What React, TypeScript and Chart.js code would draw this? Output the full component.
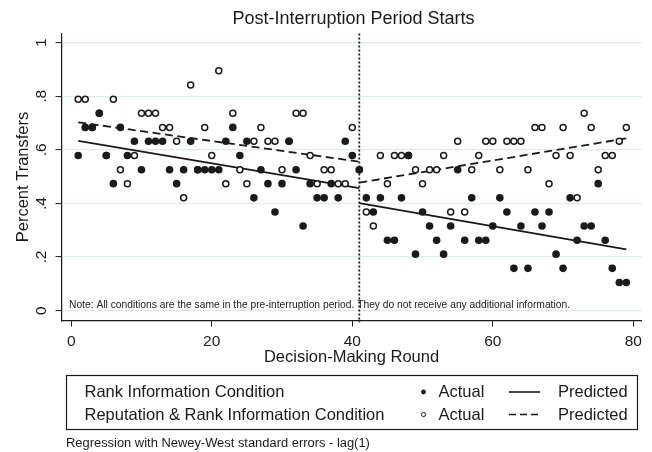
import React, { useEffect, useRef } from 'react';
import { Chart, registerables } from 'chart.js';

Chart.register(...registerables);

// ---------------- data ----------------
const rounds = [
  1, 2, 3, 4, 5, 6, 7, 8, 9, 10,
  11, 12, 13, 14, 15, 16, 17, 18, 19, 20,
  21, 22, 23, 24, 25, 26, 27, 28, 29, 30,
  31, 32, 33, 34, 35, 36, 37, 38, 39, 40, 41,
  42, 43, 44, 45, 46, 47, 48, 49, 50,
  51, 52, 53, 54, 55, 56, 57, 58, 59, 60,
  61, 62, 63, 64, 65, 66, 67, 68, 69, 70,
  71, 72, 73, 74, 75, 76, 77, 78, 79,
];

// Rank Information Condition – Actual (filled)
const rankActual = [
  0.579, 0.684, 0.684, 0.737, 0.579, 0.474, 0.684, 0.579, 0.632, 0.526,
  0.632, 0.632, 0.632, 0.526, 0.474, 0.526, 0.632, 0.526, 0.526, 0.526,
  0.526, 0.632, 0.684, 0.579, 0.632, 0.421, 0.526, 0.474, 0.368, 0.474,
  0.632, 0.526, 0.316, 0.474, 0.421, 0.421, 0.474, 0.421, 0.632, 0.579, 0.526,
  0.421, 0.368, 0.421, 0.263, 0.263, 0.421, 0.579, 0.211, 0.368,
  0.316, 0.263, 0.211, 0.316, 0.526, 0.263, 0.421, 0.263, 0.263, 0.316,
  0.421, 0.368, 0.158, 0.316, 0.158, 0.368, 0.316, 0.368, 0.211, 0.158,
  0.421, 0.263, 0.316, 0.316, 0.474, 0.263, 0.158, 0.105, 0.105,
];

// Reputation & Rank Information Condition – Actual (hollow)
const reputationActual = [
  0.789, 0.789, 0.684, 0.737, 0.579, 0.789, 0.526, 0.474, 0.579, 0.737,
  0.737, 0.737, 0.684, 0.684, 0.632, 0.421, 0.842, 0.526, 0.684, 0.579,
  0.895, 0.474, 0.737, 0.526, 0.474, 0.632, 0.684, 0.632, 0.632, 0.526,
  0.632, 0.737, 0.737, 0.579, 0.474, 0.526, 0.526, 0.474, 0.474, 0.684, 0.526,
  0.368, 0.316, 0.579, 0.474, 0.579, 0.579, 0.579, 0.526, 0.474,
  0.526, 0.526, 0.579, 0.368, 0.632, 0.368, 0.526, 0.579, 0.632, 0.632,
  0.526, 0.632, 0.632, 0.632, 0.526, 0.684, 0.684, 0.474, 0.579, 0.684,
  0.579, 0.421, 0.737, 0.684, 0.526, 0.579, 0.579, 0.632, 0.684,
];

// Predicted (regression) segments: endpoints
const preRounds = [1, 41];
const postRounds = [41, 79];
const rankPredictedPre = [0.634, 0.457];
const rankPredictedPost = [0.401, 0.229];
const reputationPredictedPre = [0.703, 0.556];
const reputationPredictedPost = [0.478, 0.643];

const interruptionRound = 41;

const xTicks = [0, 20, 40, 60, 80];
const yTicks = [0, 0.2, 0.4, 0.6, 0.8, 1];
const yTickLabels = ['0', '.2', '.4', '.6', '.8', '1'];

const titleText = 'Post-Interruption Period Starts';
const xTitle = 'Decision-Making Round';
const yTitle = 'Percent Transfers';
const noteText =
  'Note: All conditions are the same in the pre-interruption period. They do not receive any additional information.';
const footnoteText = 'Regression with Newey-West standard errors - lag(1)';
const legendConditions = ['Rank Information Condition', 'Reputation & Rank Information Condition'];
const legendActual = 'Actual';
const legendPredicted = 'Predicted';

// ---------------- styles ----------------
const FONT = '"Liberation Sans", Arial, Helvetica, sans-serif';
const INK = '#1a1a1a';
const GRID = '#d9edf0';

const toPoints = (xs: number[], ys: number[]) => xs.map((x, i) => ({ x, y: ys[i] }));

const annotations = {
  id: 'annotations',
  beforeDatasetsDraw(chart: any) {
    const { ctx, chartArea: ca, scales } = chart;
    const px = scales.x.getPixelForValue(interruptionRound);
    ctx.save();
    ctx.strokeStyle = INK;
    ctx.lineWidth = 1.8;
    ctx.setLineDash([2, 2]);
    ctx.beginPath();
    ctx.moveTo(px, ca.top);
    ctx.lineTo(px, ca.bottom + 2);
    ctx.stroke();
    ctx.restore();
  },
  afterDraw(chart: any) {
    const { ctx, chartArea: ca, scales } = chart;
    const cx = (ca.left + ca.right) / 2;
    ctx.save();
    ctx.fillStyle = INK;
    ctx.strokeStyle = INK;
    ctx.textBaseline = 'middle';

    // title
    ctx.font = `18px ${FONT}`;
    ctx.textAlign = 'center';
    ctx.fillText(titleText, cx + 2, 19);

    // y tick labels (rotated)
    ctx.font = `15.5px ${FONT}`;
    yTicks.forEach((v, i) => {
      const py = scales.y.getPixelForValue(v);
      ctx.save();
      ctx.translate(ca.left - 20, py);
      ctx.rotate(-Math.PI / 2);
      ctx.textAlign = 'center';
      ctx.fillText(yTickLabels[i], 0, 0);
      ctx.restore();
    });

    // y title
    ctx.font = `16.5px ${FONT}`;
    ctx.save();
    ctx.translate(23.5, (ca.top + ca.bottom) / 2);
    ctx.rotate(-Math.PI / 2);
    ctx.textAlign = 'center';
    ctx.fillText(yTitle, 0, 0);
    ctx.restore();

    // x title
    ctx.textAlign = 'center';
    ctx.fillText(xTitle, cx, 357.5);

    // note inside plot
    ctx.font = `10px ${FONT}`;
    const nw = ctx.measureText(noteText).width;
    ctx.font = `${(10 * 502) / nw}px ${FONT}`;
    ctx.textAlign = 'left';
    ctx.fillText(noteText, 69, 305.5);

    // legend box
    ctx.lineWidth = 1.2;
    ctx.strokeRect(66.5, 375.5, 571, 54);
    ctx.font = `16.5px ${FONT}`;
    ctx.textAlign = 'left';
    const rowY = [392.5, 415];
    legendConditions.forEach((t, i) => {
      ctx.fillText(t, 84.5, rowY[i]);
      ctx.fillText(legendActual, 438.5, rowY[i]);
      ctx.fillText(legendPredicted, 558, rowY[i]);
    });
    // markers
    ctx.beginPath();
    ctx.arc(423.5, rowY[0] - 0.5, 2.4, 0, Math.PI * 2);
    ctx.fill();
    ctx.beginPath();
    ctx.lineWidth = 1;
    ctx.arc(423.5, rowY[1] - 0.5, 2.1, 0, Math.PI * 2);
    ctx.stroke();
    // line samples
    ctx.lineWidth = 1.6;
    ctx.beginPath();
    ctx.moveTo(509, rowY[0] - 0.5);
    ctx.lineTo(540, rowY[0] - 0.5);
    ctx.stroke();
    ctx.setLineDash([7, 4]);
    ctx.beginPath();
    ctx.moveTo(509, rowY[1] - 0.5);
    ctx.lineTo(540, rowY[1] - 0.5);
    ctx.stroke();
    ctx.setLineDash([]);

    // footnote
    ctx.font = `12px ${FONT}`;
    const fw = ctx.measureText(footnoteText).width;
    ctx.font = `${(12 * 304) / fw}px ${FONT}`;
    ctx.fillText(footnoteText, 66, 443.5);

    ctx.restore();
  },
};

export default function App() {
  const ref = useRef<HTMLCanvasElement>(null);

  useEffect(() => {
    const canvas = ref.current;
    if (!canvas) return;
    const lineStyle = {
      showLine: true,
      borderColor: INK,
      borderWidth: 1.8,
      pointRadius: 0,
      pointHoverRadius: 0,
      fill: false,
    };
    const chart = new Chart(canvas, {
      type: 'scatter',
      data: {
        datasets: [
          {
            label: 'Rank Actual',
            data: toPoints(rounds, rankActual),
            pointRadius: 3.8,
            pointBackgroundColor: INK,
            pointBorderColor: INK,
            pointBorderWidth: 0,
            order: 1,
          },
          {
            label: 'Reputation Actual',
            data: toPoints(rounds, reputationActual),
            pointRadius: 3,
            pointBackgroundColor: '#ffffff',
            pointBorderColor: INK,
            pointBorderWidth: 1.5,
            order: 2,
          },
          { label: 'Rank Predicted pre', data: toPoints(preRounds, rankPredictedPre), ...lineStyle, order: 3 },
          { label: 'Rank Predicted post', data: toPoints(postRounds, rankPredictedPost), ...lineStyle, order: 3 },
          {
            label: 'Reputation Predicted pre',
            data: toPoints(preRounds, reputationPredictedPre),
            ...lineStyle,
            borderDash: [8, 4.5],
            order: 3,
          },
          {
            label: 'Reputation Predicted post',
            data: toPoints(postRounds, reputationPredictedPost),
            ...lineStyle,
            borderDash: [8, 4.5],
            order: 3,
          },
        ] as any,
      },
      options: {
        responsive: false,
        animation: false,
        devicePixelRatio: 1,
        events: [],
        layout: { padding: { top: 33.5, right: 10.5, left: 0, bottom: 0 } },
        plugins: {
          legend: { display: false },
          title: { display: false },
          tooltip: { enabled: false },
        },
        scales: {
          x: {
            type: 'linear',
            min: -1.38,
            max: 81.16,
            afterBuildTicks: (s: any) => {
              s.ticks = xTicks.map((v) => ({ value: v }));
            },
            afterFit: (s: any) => {
              s.height = 131.5;
            },
            ticks: {
              color: INK,
              font: { family: FONT, size: 15.5 },
              padding: 6,
              maxRotation: 0,
              callback: (v: any) => String(v),
            },
            grid: {
              drawOnChartArea: false,
              drawTicks: true,
              tickLength: 6,
              color: INK,
              lineWidth: 1,
            },
            border: { display: true, color: INK, width: 1.2 },
          },
          y: {
            type: 'linear',
            min: -0.0366,
            max: 1.0343,
            afterBuildTicks: (s: any) => {
              s.ticks = yTicks.map((v) => ({ value: v }));
            },
            afterFit: (s: any) => {
              s.width = 61.5;
            },
            ticks: { display: false },
            grid: {
              color: GRID,
              lineWidth: 1.2,
              drawTicks: true,
              tickLength: 6,
              tickColor: INK,
              tickWidth: 1,
            },
            border: { display: true, color: INK, width: 1.2 },
          },
        },
      } as any,
      plugins: [annotations],
    });
    return () => chart.destroy();
  }, []);

  return (
    <div style={{ position: 'fixed', left: 0, top: 0, width: 652, height: 452, background: '#ffffff' }}>
      <canvas ref={ref} width={652} height={452} style={{ display: 'block', width: 652, height: 452 }} />
    </div>
  );
}
